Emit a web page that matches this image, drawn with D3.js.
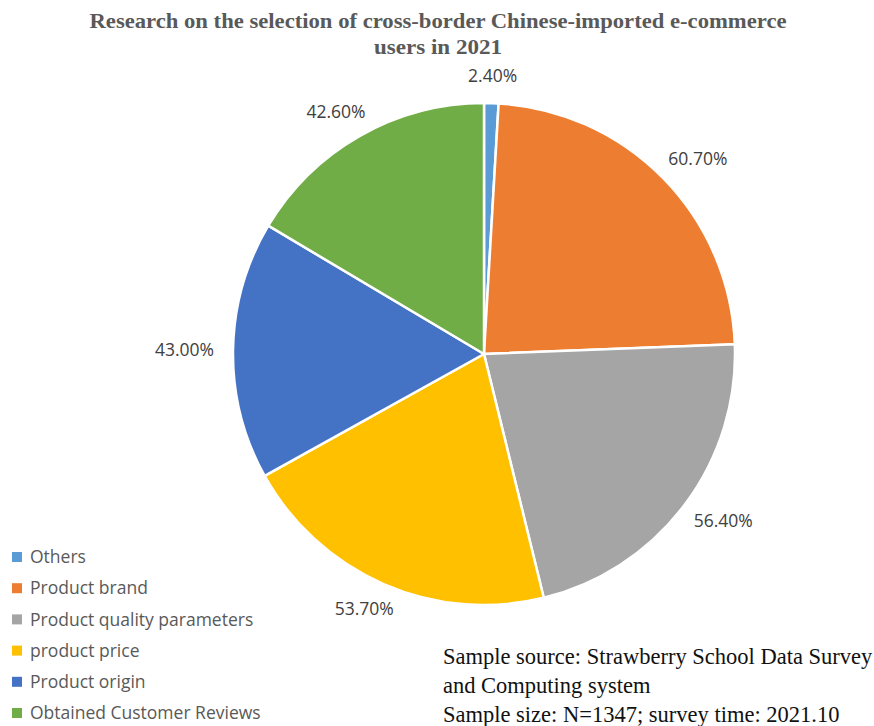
<!DOCTYPE html>
<html>
<head>
<meta charset="utf-8">
<script src="https://cdn.jsdelivr.net/npm/d3@7"></script>
<style>
  body { margin: 0; background: #fff; }
  svg { display: block; }
</style>
</head>
<body>
<div id="chart"></div>
<script>
// chart data
var categories = ["Others", "Product brand", "Product quality parameters", "product price", "Product origin", "Obtained Customer Reviews"];
var values = [2.40, 60.70, 56.40, 53.70, 43.00, 42.60];
var colors = ["#5B9BD5", "#ED7D31", "#A5A5A5", "#FFC000", "#4472C4", "#70AD47"];
var titleLines = ["Research on the selection of cross-border Chinese-imported e-commerce", "users in 2021"];
var noteLines = ["Sample source: Strawberry School Data Survey", "and Computing system", "Sample size: N=1347; survey time: 2021.10"];

var w = 874, h = 726;
var cx = 484, cy = 354, r = 251;

var svg = d3.select("#chart").append("svg")
  .attr("width", w)
  .attr("height", h);

// title (condensed bold serif, squeezed to the reference width)
var titleWidths = [697, 128];
svg.selectAll("text.title")
  .data(titleLines)
  .enter()
  .append("text")
  .attr("class", "title")
  .attr("x", 438)
  .attr("y", function (d, i) { return 28 + i * 26; })
  .attr("text-anchor", "middle")
  .attr("font-family", "'Liberation Serif', 'Times New Roman', serif")
  .attr("font-weight", "bold")
  .attr("font-size", 22)
  .attr("fill", "#595959")
  .attr("textLength", function (d, i) { return titleWidths[i]; })
  .attr("lengthAdjust", "spacingAndGlyphs")
  .text(function (d) { return d; });

// pie
var pie = d3.pie().sort(null).value(function (d) { return d; });
var arcs = pie(values);
var arc = d3.arc().innerRadius(0).outerRadius(r);

var g = svg.append("g").attr("transform", "translate(" + cx + "," + cy + ")");

g.selectAll("path")
  .data(arcs)
  .enter()
  .append("path")
  .attr("d", arc)
  .attr("fill", function (d, i) { return colors[i]; })
  .attr("stroke", "#fff")
  .attr("stroke-width", 2.5)
  .attr("stroke-linejoin", "round");

// labels, placed just outside the edge like excel's "outside end"
var labelR = r + 18;
g.selectAll("text.lbl")
  .data(arcs)
  .enter()
  .append("text")
  .attr("class", "lbl")
  .attr("font-family", "'Open Sans', 'Noto Sans', sans-serif")
  .attr("font-size", 17.5)
  .attr("fill", "#404040")
  .attr("text-anchor", "middle")
  .attr("dy", "0.35em")
  .text(function (d) { return d.value.toFixed(2) + "%"; })
  .each(function (d) {
    var a = (d.startAngle + d.endAngle) / 2;
    var bw = this.getComputedTextLength();
    var x = Math.sin(a) * labelR + Math.sin(a) * (bw / 2 + 1);
    var y = -Math.cos(a) * labelR - Math.cos(a) * 9;
    d3.select(this).attr("x", x).attr("y", y);
  });

// legend
var legend = svg.selectAll("g.legend")
  .data(categories)
  .enter()
  .append("g")
  .attr("class", "legend")
  .attr("transform", function (d, i) { return "translate(12," + (557 + i * 31.2) + ")"; });

legend.append("rect")
  .attr("x", 0)
  .attr("y", -5)
  .attr("width", 10)
  .attr("height", 10)
  .attr("fill", function (d, i) { return colors[i]; });

legend.append("text")
  .attr("x", 18)
  .attr("dy", "0.35em")
  .attr("font-family", "'Open Sans', 'Noto Sans', sans-serif")
  .attr("font-size", 17.5)
  .attr("fill", "#595959")
  .text(function (d) { return d; });

// source note
svg.selectAll("text.note")
  .data(noteLines)
  .enter()
  .append("text")
  .attr("class", "note")
  .attr("x", 443)
  .attr("y", function (d, i) { return 664 + i * 29; })
  .attr("font-family", "'Liberation Serif', 'Times New Roman', serif")
  .attr("font-size", 22.5)
  .attr("fill", "#111")
  .text(function (d) { return d; });
</script>
</body>
</html>
